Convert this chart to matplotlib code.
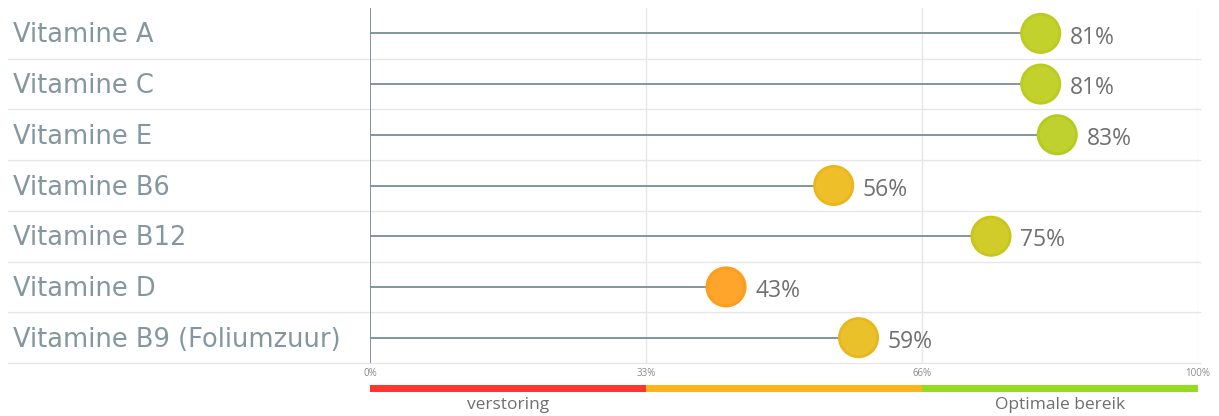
import numpy as np
import matplotlib.pyplot as plt
from matplotlib.transforms import blended_transform_factory

plt.rcParams['font.family'] = ['Open Sans', 'DejaVu Sans']

# Data
vitamines = ["Vitamine A", "Vitamine C", "Vitamine E", "Vitamine B6",
             "Vitamine B12", "Vitamine D", "Vitamine B9 (Foliumzuur)"]
waarden = [81, 81, 83, 56, 75, 43, 59]
kleuren = ["#c3d12d", "#c3d12d", "#bfd12e", "#efbf2a", "#d1cc2a", "#ffa52b", "#ebc12b"]
randen = ["#b9cc1f", "#b9cc1f", "#b5cb20", "#ebb61c", "#c9c51c", "#fd9c1d", "#e7b81d"]
zones = [(0, 33.33, "#ff3530"), (33.33, 66.67, "#fdb417"), (66.67, 100, "#94dc1e")]
tick_pos = [0, 33.33, 66.67, 100]
tick_lbl = ["0%", "33%", "66%", "100%"]

W, H = 1219, 416
fig = plt.figure(figsize=(W / 100, H / 100), dpi=100)
ax = fig.add_axes([370 / W, 1 - 363 / H, 828 / W, 355 / H])

n = len(vitamines)
y = np.arange(n)
ax.set_xlim(0, 100)
ax.set_ylim(n - 0.5, -0.5)

# grid
for t in tick_pos[1:]:
    ax.axvline(t, color="#e6e6e6", lw=1, zorder=0)
trans = blended_transform_factory(fig.transFigure, ax.transData)
for b in np.arange(n) + 0.5:
    ax.plot([8 / W, 1200 / W], [b, b], color="#e6e6e6", lw=1, transform=trans,
            clip_on=False, zorder=0)
ax.axvline(0, color="#7a8c96", lw=1.3, zorder=2)

ax.hlines(y, 0, waarden, color="#7a8c96", lw=1.3, zorder=2)
ax.scatter(waarden, y, s=760, c=kleuren, edgecolors=randen, linewidths=2, zorder=3)
for yi, v in zip(y, waarden):
    ax.annotate(f"{v}%", (v, yi), xytext=(21, -3), textcoords="offset points",
                va="center", ha="left", fontsize=16.5, color="#707070")
for yi, name in zip(y, vitamines):
    ax.text(13 / W, yi + 0.04, name, transform=trans, va="center", ha="left",
            fontsize=18.5, color="#8497a0", family="DejaVu Sans")

ax.set_xticks([])
ax.set_yticks([])
for s in ax.spines.values():
    s.set_visible(False)

# gradient bar
bx = fig.add_axes([370 / W, 1 - 392 / H, 828 / W, 7 / H])
bx.set_xlim(0, 100)
bx.set_ylim(0, 1)
for a, b, c in zones:
    bx.axvspan(a, b, color=c, lw=0)
bx.axis("off")
for t, l in zip(tick_pos, tick_lbl):
    bx.text(t, 1 + 11 / 7, l, ha="center", va="center", fontsize=7, color="#8a8a8a")
bx.text(16.7, -1.9, "verstoring", ha="center", va="center", fontsize=12.5, color="#6e6e6e")
bx.text(83.3, -1.9, "Optimale bereik", ha="center", va="center", fontsize=12.5, color="#6e6e6e")

fig.savefig("out.png", dpi=100)
